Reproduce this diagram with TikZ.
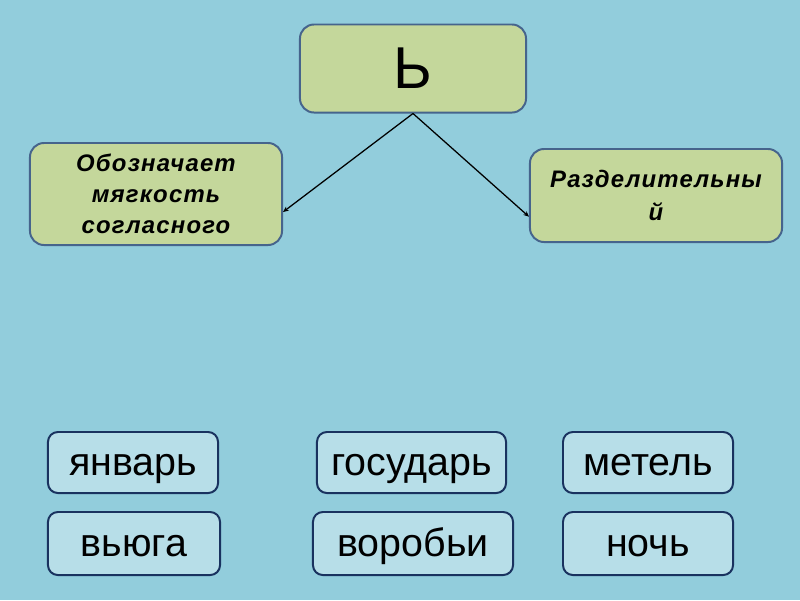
\documentclass[tikz,border=0pt]{standalone}
\usepackage{fontspec}
\setmainfont{Liberation Sans}
\usepackage{tikz}
\usetikzlibrary{arrows.meta}
\definecolor{bgblue}{RGB}{146,205,220}
\definecolor{rulefill}{RGB}{196,215,155}
\definecolor{ruleline}{RGB}{70,100,140}
\definecolor{wordfill}{RGB}{183,222,232}
\definecolor{wordline}{RGB}{25,50,95}

\begin{document}
\begin{tikzpicture}[x=0.025cm, y=-0.025cm,
    rulebox/.style={draw=ruleline, line width=1.4pt, fill=rulefill, rounded corners=10pt,
        inner sep=0pt, align=center},
    wordbox/.style={draw=wordline, line width=1.4pt, fill=wordfill, rounded corners=7pt,
        inner sep=0pt, text height=22pt, text depth=4.2pt, font=\fontsize{28}{32}\selectfont},
    every node/.style={text=black}]
    \fill[bgblue] (0,0) rectangle (800,600);
    \node[rulebox, minimum width=5.65cm, minimum height=2.2cm, font=\fontsize{42}{46}\selectfont]
        (soft) at (413,68.5) {Ь};
    \node[rulebox, minimum width=6.3cm, minimum height=2.55cm,
        font=\fontsize{17}{22}\selectfont\bfseries\itshape\addfontfeatures{LetterSpace=5}]
        (mark) at (156,194) {Обозначает\\мягкость\\согласного};
    \node[rulebox, minimum width=6.3cm, minimum height=2.325cm,
        font=\fontsize{17}{23.5}\selectfont\bfseries\itshape\addfontfeatures{LetterSpace=5}]
        (sep) at (656,195.5) {Разделительны\\й};
    \draw[line width=0.9pt, -{Stealth[length=4pt,width=3.5pt]}] (soft.south) -- ([yshift=-0.45cm]mark.east);
    \draw[line width=0.9pt, -{Stealth[length=4pt,width=3.5pt]}] (soft.south) -- ([yshift=-0.53cm]sep.west);
    \node[wordbox, minimum width=4.25cm, minimum height=1.525cm] (w1) at (133,462.5) {январь};
    \node[wordbox, minimum width=4.725cm, minimum height=1.525cm] (w2) at (411.5,462.5) {государь};
    \node[wordbox, minimum width=4.25cm, minimum height=1.525cm] (w3) at (648,462.5) {метель};
    \node[wordbox, minimum width=4.3cm, minimum height=1.575cm] (w4) at (134,543.5) {вьюга};
    \node[wordbox, minimum width=5.0cm, minimum height=1.575cm] (w5) at (413,543.5) {воробьи};
    \node[wordbox, minimum width=4.25cm, minimum height=1.575cm] (w6) at (648,543.5) {ночь};
\end{tikzpicture}
\end{document}
